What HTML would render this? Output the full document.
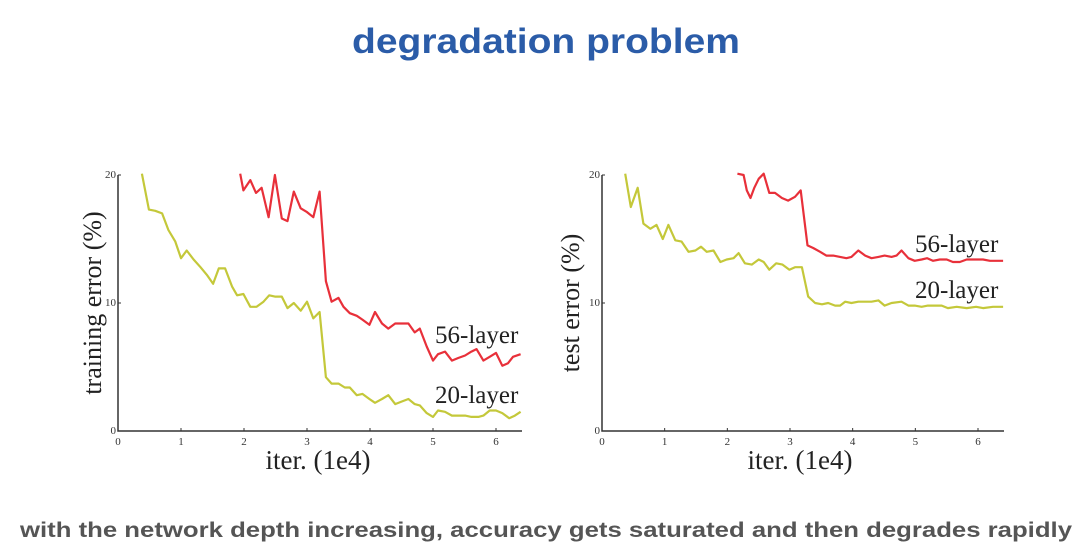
<!DOCTYPE html>
<html><head><meta charset="utf-8"><style>
html,body{margin:0;padding:0;background:#fff;}
svg{display:block;}
</style></head><body>
<svg id="root" width="1090" height="555" xmlns="http://www.w3.org/2000/svg">
<rect x="0" y="0" width="1090" height="555" fill="#fff"/>
<text x="546" y="53" text-anchor="middle" font-family="Liberation Sans, sans-serif" font-size="35" font-weight="bold" fill="#2b5ca8" textLength="388" lengthAdjust="spacingAndGlyphs">degradation problem</text>
<text x="20" y="537" font-family="Liberation Sans, sans-serif" font-size="21" font-weight="bold" fill="#555" textLength="1052" lengthAdjust="spacingAndGlyphs">with the network depth increasing, accuracy gets saturated and then degrades rapidly</text>
<g id="left"></g>
<g id="right"></g>
</svg>
<script>
const xTicks = [0,1,2,3,4,5,6];
const yTicks = [0,10,20];
const trainX56 = [1.94,1.99,2.1,2.19,2.28,2.39,2.49,2.6,2.69,2.79,2.9,3.0,3.1,3.2,3.3,3.39,3.5,3.58,3.68,3.79,3.88,3.99,4.08,4.19,4.29,4.4,4.5,4.61,4.71,4.79,4.9,5.0,5.08,5.19,5.3,5.4,5.51,5.61,5.69,5.8,5.9,6.0,6.1,6.19,6.27,6.39];
const trainY56 = [20.1,18.8,19.6,18.6,19,16.7,20,16.6,16.4,18.7,17.4,17.1,16.7,18.7,11.7,10.1,10.4,9.7,9.2,9.0,8.7,8.3,9.3,8.4,8.0,8.4,8.4,8.4,7.7,8.0,6.6,5.5,6.0,6.2,5.5,5.7,5.9,6.2,6.4,5.5,5.8,6.1,5.1,5.3,5.8,6.0];
const trainX20 = [0.38,0.49,0.59,0.7,0.8,0.91,1.0,1.09,1.2,1.31,1.41,1.51,1.6,1.7,1.81,1.89,1.99,2.1,2.2,2.31,2.4,2.49,2.6,2.69,2.79,2.9,3.0,3.1,3.2,3.3,3.39,3.5,3.6,3.68,3.79,3.88,3.99,4.08,4.19,4.29,4.4,4.5,4.61,4.71,4.79,4.9,5.0,5.08,5.19,5.3,5.4,5.51,5.61,5.72,5.8,5.9,6.0,6.1,6.21,6.3,6.39];
const trainY20 = [20.1,17.3,17.2,17.0,15.7,14.8,13.5,14.1,13.4,12.8,12.2,11.5,12.7,12.7,11.3,10.6,10.7,9.7,9.7,10.1,10.6,10.5,10.5,9.6,10.0,9.4,10.1,8.8,9.3,4.2,3.7,3.7,3.4,3.4,2.8,2.9,2.5,2.2,2.5,2.8,2.1,2.3,2.5,2.1,2.0,1.4,1.1,1.6,1.5,1.2,1.2,1.2,1.1,1.1,1.2,1.6,1.6,1.4,1.0,1.2,1.5];
const testX56 = [2.16,2.26,2.31,2.37,2.43,2.5,2.58,2.67,2.76,2.87,2.97,3.08,3.17,3.28,3.37,3.48,3.58,3.69,3.8,3.9,3.98,4.09,4.2,4.3,4.41,4.51,4.62,4.7,4.78,4.89,4.99,5.1,5.19,5.28,5.39,5.5,5.6,5.71,5.82,5.92,6.08,6.19,6.4];
const testY56 = [20.1,20,18.8,18.2,19.0,19.7,20.1,18.6,18.6,18.2,18.0,18.3,18.8,14.5,14.3,14.0,13.7,13.7,13.6,13.5,13.6,14.1,13.7,13.5,13.6,13.7,13.6,13.7,14.1,13.5,13.3,13.4,13.5,13.3,13.4,13.4,13.2,13.2,13.4,13.4,13.4,13.3,13.3];
const testX20 = [0.37,0.46,0.57,0.66,0.77,0.87,0.97,1.06,1.17,1.27,1.38,1.49,1.58,1.67,1.78,1.89,1.99,2.1,2.18,2.28,2.39,2.5,2.58,2.67,2.78,2.88,2.99,3.08,3.19,3.29,3.4,3.51,3.61,3.72,3.8,3.88,3.98,4.09,4.2,4.3,4.41,4.51,4.62,4.78,4.89,4.99,5.1,5.2,5.31,5.42,5.52,5.66,5.82,5.97,6.08,6.24,6.4];
const testY20 = [20.1,17.5,19.0,16.2,15.8,16.1,15.0,16.1,14.9,14.8,14.0,14.1,14.4,14.0,14.1,13.2,13.4,13.5,13.9,13.1,13.0,13.4,13.2,12.6,13.1,13.0,12.6,12.8,12.8,10.5,10.0,9.9,10.0,9.8,9.8,10.1,10.0,10.1,10.1,10.1,10.2,9.8,10.0,10.1,9.8,9.8,9.7,9.8,9.8,9.8,9.6,9.7,9.6,9.7,9.6,9.7,9.7];

const NS = 'http://www.w3.org/2000/svg';
function mk(parent, tag, attrs, text) {
  const e = document.createElementNS(NS, tag);
  for (const k in attrs) e.setAttribute(k, attrs[k]);
  if (text !== undefined) e.textContent = text;
  parent.appendChild(e);
  return e;
}
function chart(gid, x0, xEnd, px6, yLabel, yLabelX, s56, s20, lab56y, lab20y, labX, xTitleX) {
  const g = document.getElementById(gid);
  const y0 = 431, yTop = 175;
  const sx = v => x0 + v * (px6 - x0) / 6;
  const sy = v => y0 - v * (y0 - yTop) / 20;
  const ax = mk(g, 'path', {d: `M${x0},${yTop} V${y0} H${xEnd}`, fill: 'none', stroke: '#333', 'stroke-width': 1.5});
  
  
  xTicks.forEach(t => {
    const tk = mk(g, 'line', {x1: sx(t), x2: sx(t), y1: y0, y2: y0 - 3, stroke: '#333'});
    
    
    const tl = mk(g, 'text', {x: sx(t), y: y0 + 14, 'text-anchor': 'middle', 'font-family': 'Liberation Serif, serif', 'font-size': 11, fill: '#333'}, String(t));
    
    
  });
  yTicks.forEach(t => {
    const tk = mk(g, 'line', {x1: x0, x2: x0 + 3, y1: sy(t), y2: sy(t), stroke: '#333'});
    
    
    const tl = mk(g, 'text', {x: x0 - 2, y: sy(t) + 3, 'text-anchor': 'end', 'font-family': 'Liberation Serif, serif', 'font-size': 11, fill: '#333'}, String(t));
    
    
  });
  const xt = mk(g, 'text', {x: xTitleX, y: 469, 'text-anchor': 'middle', 'font-family': 'Liberation Serif, serif', 'font-size': 27, fill: '#222'}, 'iter. (1e4)');
  
  
  const yt = mk(g, 'text', {x: 0, y: 0, transform: `translate(${yLabelX},303) rotate(-90)`, 'text-anchor': 'middle', 'font-family': 'Liberation Serif, serif', 'font-size': 26, fill: '#222'}, yLabel);
  
  
  [[s56, '#e8303a', '56-layer', lab56y], [s20, '#c4c83a', '20-layer', lab20y]].forEach(([s, c, name, ly]) => {
    const d = s[0].map((v, i) => (i ? 'L' : 'M') + sx(v).toFixed(1) + ',' + sy(s[1][i]).toFixed(1)).join(' ');
    const p = mk(g, 'path', {d: d, fill: 'none', stroke: c, 'stroke-width': 2.2, 'stroke-linejoin': 'round'});
    
    
    const t = mk(g, 'text', {x: labX, y: ly, 'font-family': 'Liberation Serif, serif', 'font-size': 25, fill: '#222'}, name);
    
    
  });
}
chart('left', 118, 522, 496, 'training error (%)', 101, [trainX56, trainY56], [trainX20, trainY20], 343, 403, 435, 318);
chart('right', 602, 1004, 978, 'test error (%)', 579, [testX56, testY56], [testX20, testY20], 252, 298, 915, 800);
</script>
</body></html>
